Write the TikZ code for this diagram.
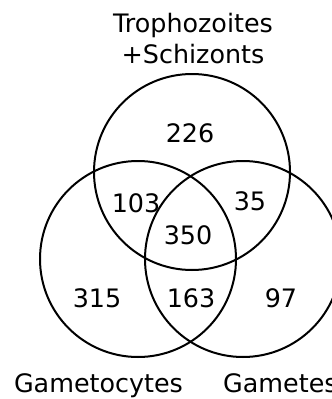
\documentclass[tikz,border=0pt]{standalone}
\usepackage{fontspec}
\setmainfont{DejaVu Sans}
\begin{document}
\begin{tikzpicture}[x=1pt,y=-1pt,
  set/.style={circle, draw=black, line width=2pt, minimum size=196pt, inner sep=0pt},
  lbl/.style={inner sep=0pt, anchor=base, font=\fontsize{25.4}{30}\selectfont}]
\useasboundingbox (0,0) rectangle (332,399);
\node[set] (top) at (192,172) {};
\node[set] (left) at (138,259) {};
\node[set] (right) at (243,259) {};
\node[lbl] (t1) at (193,32) {Trophozoites};
\node[lbl] (t2) at (193,63) {+Schizonts};
\node[lbl] (gc) at (98.5,392) {Gametocytes};
\node[lbl, anchor=base west] (gm) at (223,392) {Gametes};
\node[lbl] (n226) at (190,142) {226};
\node[lbl] (n103) at (136,212) {103};
\node[lbl] (n35) at (250,210) {35};
\node[lbl] (n350) at (188,244) {350};
\node[lbl] (n315) at (97,307) {315};
\node[lbl] (n163) at (191,307) {163};
\node[lbl] (n97) at (281,307) {97};
\end{tikzpicture}
\end{document}
